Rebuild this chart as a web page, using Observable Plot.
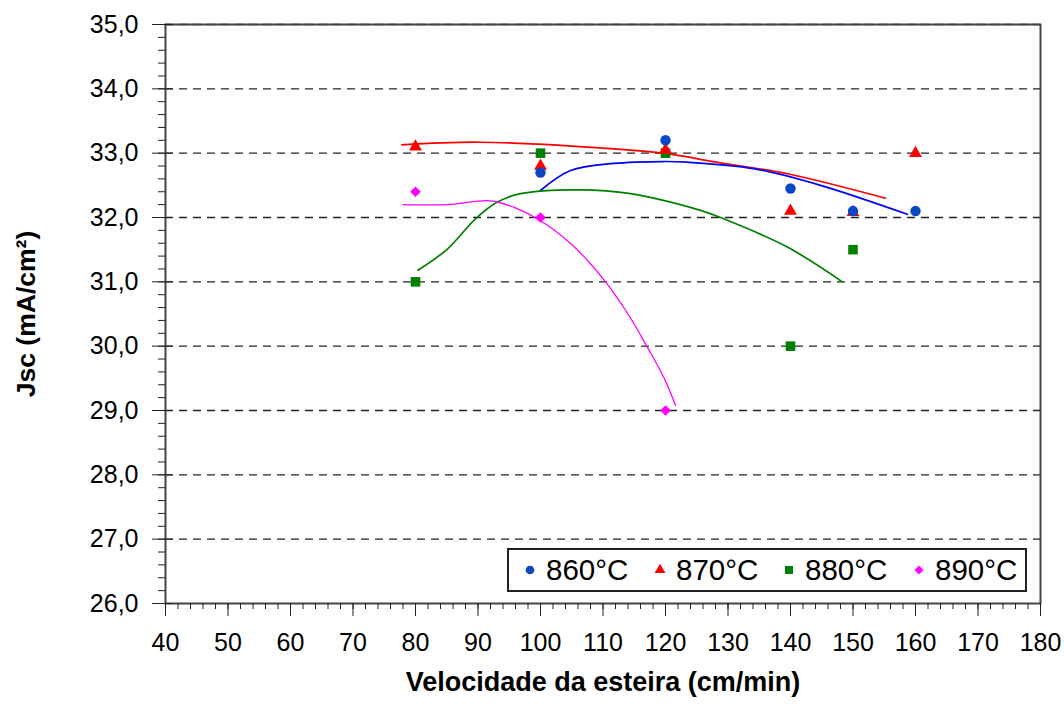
<!DOCTYPE html>
<html>
<head>
<meta charset="utf-8">
<script src="https://cdn.jsdelivr.net/npm/d3@7"></script>
<script src="https://cdn.jsdelivr.net/npm/@observablehq/plot@0.6"></script>
<style>
  body { margin: 0; background: white; font-family: "Liberation Sans", Arial, sans-serif; }
  #wrap { position: relative; width: 1064px; height: 706px; }
  #legend { position: absolute; left: 507px; top: 548px; width: 516px; height: 40px;
            border: 2px solid #222; background: white; }
  .item { position: absolute; top: 0; height: 40px; display: flex; align-items: center; }
  .item span { font-size: 29.5px; color: #000; margin-left: 8px; line-height: 40px; }
</style>
</head>
<body>
<div id="wrap"></div>
<script>
// ---- Data ----
const series = ["860°C", "870°C", "880°C", "890°C"];

const x860 = [100, 120, 140, 150, 160];
const y860 = [32.7, 33.2, 32.45, 32.1, 32.1];
const x870 = [80, 100, 120, 140, 150, 160];
const y870 = [33.1, 32.8, 33.05, 32.1, 32.08, 33.0];
const x880 = [80, 100, 120, 140, 150];
const y880 = [31.0, 33.0, 33.0, 30.0, 31.5];
const x890 = [80, 100, 120];
const y890 = [32.4, 32.0, 29.0];

// trend lines
const tx860 = [100, 104.8, 111.7, 119.7, 123.5, 134.1, 144.8, 158.7];
const ty860 = [32.42, 32.73, 32.84, 32.87, 32.86, 32.76, 32.50, 32.05];
const tx870 = [77.8, 90.4, 112.8, 119.7, 128.8, 139.5, 155.2];
const ty870 = [33.13, 33.17, 33.06, 33.0, 32.85, 32.68, 32.30];
const tx880 = [80.4, 85.1, 89.6, 93.1, 96.8, 106.4, 114.4, 125.6, 128.8, 139.5, 148.3];
const ty880 = [31.18, 31.51, 31.98, 32.24, 32.37, 32.43, 32.37, 32.11, 32.0, 31.54, 31.0];
const tx890 = [78.0, 85.0, 92.0, 95.7, 100, 105, 110, 114, 117, 119.7, 121.6];
const ty890 = [32.20, 32.20, 32.26, 32.16, 31.95, 31.58, 31.05, 30.5, 30.0, 29.52, 29.08];

const xTicks = [40, 50, 60, 70, 80, 90, 100, 110, 120, 130, 140, 150, 160, 170, 180];
const yTicks = [26, 27, 28, 29, 30, 31, 32, 33, 34, 35];
const gridY = [27, 28, 29, 30, 31, 32, 33, 34, 35];
const xMinor = d3.range(40, 181, 2);
const yMinor = d3.range(0, 46).map(i => 26 + i * 0.2);

const xTitle = "Velocidade da esteira (cm/min)";
const yTitle = "Jsc (mA/cm²)";

const zip = (xs, ys) => xs.map((x, i) => ({x, y: ys[i]}));
const fmt = d => d.toFixed(1).replace(".", ",");

const markerStyle = {
  "860°C": {symbol: "circle", fill: "#0a47c2", r: 5.2},
  "870°C": {symbol: "triangle", fill: "#ff0000", r: 4.8},
  "880°C": {symbol: "square", fill: "#008000", r: 5.4},
  "890°C": {symbol: "diamond2", fill: "#ff00ff", r: 4.8}
};

const chart = Plot.plot({
  width: 1064, height: 706,
  marginLeft: 165, marginRight: 24, marginTop: 24, marginBottom: 103,
  style: {fontFamily: "'Liberation Sans', Arial, sans-serif", background: "white", color: "#000"},
  x: {domain: [40, 180]},
  y: {domain: [26, 35]},
  marks: [
    Plot.ruleY(gridY, {stroke: "#222", strokeWidth: 1.4, strokeDasharray: "8,6"}),
    Plot.frame({stroke: "#444", strokeWidth: 2}),
    // y axis
    Plot.axisY({ticks: yTicks, tickSize: 13, tickPadding: 14, tickFormat: fmt, fontSize: 25, stroke: "#222", label: null}),
    Plot.axisY({ticks: yTicks, tickSize: -8, text: null, stroke: "#222", label: null}),
    Plot.axisY({ticks: yMinor, tickSize: 7, text: null, stroke: "#222", label: null}),
    // x axis
    Plot.axisX({ticks: xTicks, tickSize: 13, tickPadding: 17, fontSize: 25, stroke: "#222", label: null}),
    Plot.axisX({ticks: xMinor, tickSize: 6, text: null, stroke: "#222", label: null}),
    // trend lines
    Plot.line(zip(tx870, ty870), {x: "x", y: "y", stroke: "#ff0000", strokeWidth: 1.7, curve: "catmull-rom"}),
    Plot.line(zip(tx860, ty860), {x: "x", y: "y", stroke: "#0000ff", strokeWidth: 1.7, curve: "catmull-rom"}),
    Plot.line(zip(tx880, ty880), {x: "x", y: "y", stroke: "#008000", strokeWidth: 1.7, curve: "catmull-rom"}),
    Plot.line(zip(tx890, ty890), {x: "x", y: "y", stroke: "#ff00ff", strokeWidth: 1.3, curve: "catmull-rom"}),
    // points
    Plot.dot(zip(x880, y880), {x: "x", y: "y", ...markerStyle["880°C"]}),
    Plot.dot(zip(x870, y870), {x: "x", y: "y", ...markerStyle["870°C"]}),
    Plot.dot(zip(x860, y860), {x: "x", y: "y", ...markerStyle["860°C"]}),
    Plot.dot(zip(x890, y890), {x: "x", y: "y", ...markerStyle["890°C"]}),
    // axis titles
    Plot.text([xTitle], {frameAnchor: "bottom", dy: 87, fontSize: 27, fontWeight: "bold", fill: "#000"}),
    Plot.text([yTitle], {frameAnchor: "left", textAnchor: "middle", dx: -139, rotate: -90, fontSize: 26.5, fontWeight: "bold", fill: "#000"})
  ]
});

const wrap = document.getElementById("wrap");
wrap.appendChild(chart);

// legend (inside the plot area, lower right)
const legend = document.createElement("div");
legend.id = "legend";
const lefts = [13, 143, 272, 402];
const symbolGen = {circle: d3.symbolCircle, triangle: d3.symbolTriangle, square: d3.symbolSquare, diamond2: d3.symbolDiamond2};
series.forEach((s, i) => {
  const st = markerStyle[s];
  const item = document.createElement("div");
  item.className = "item";
  item.style.left = lefts[i] + "px";
  const path = d3.symbol(symbolGen[st.symbol], Math.PI * st.r * st.r * 0.7)();
  item.innerHTML = `<svg width="16" height="16" viewBox="-8 -8 16 16"><path d="${path}" fill="${st.fill}"/></svg><span>${s}</span>`;
  legend.appendChild(item);
});
wrap.appendChild(legend);
</script>
</body>
</html>
